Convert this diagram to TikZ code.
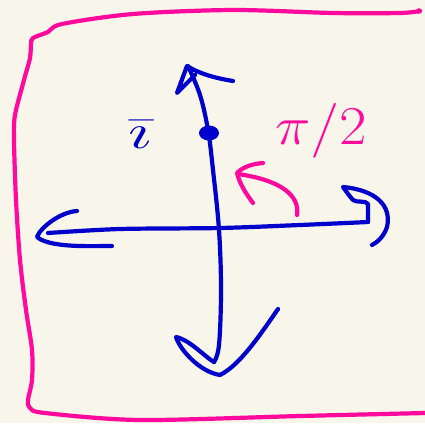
\documentclass[tikz,border=0pt]{standalone}
\usepackage{amsmath}
\definecolor{paper}{HTML}{F8F5EA}
\definecolor{ink}{HTML}{0000CC}
\definecolor{pinkink}{HTML}{FF0A9C}
\begin{document}
\begin{tikzpicture}[x=1pt,y=-1pt,
  pen/.style={line width=4.2pt,line cap=round,line join=round},
  bluepen/.style={pen,draw=ink},
  pinkpen/.style={pen,draw=pinkink}]
\fill[paper] (0,0) rectangle (425,423);
\useasboundingbox (0,0) rectangle (425,423);
% border
\draw[pinkpen] plot[smooth,tension=0.5] coordinates {(420,11) (400,13) (333,13) (233,10) (133,14) (62,24) (48,32) (33,38) (31,44) (30,58) (24,80) (15,115) (14,140) (16,200) (20,260) (26,310) (32,350) (32,380) (28,400) (30,408) (45,413) (140,420) (300,416) (425,413)};
\fill[pinkink] (419,11) circle (2.8);
% vertical axis
\draw[bluepen] plot[smooth,tension=0.6] coordinates {(188,66) (200,95) (208,130) (213,170) (219,230) (221,290) (219,345) (214,362)};
\draw[bluepen] (195,75) -- (177,93) -- (187,66) .. controls (200,74) and (215,78) .. (233,81);
\draw[bluepen] (214,362) .. controls (205,357) and (190,340) .. (176,337) .. controls (180,350) and (200,372) .. (220,375) .. controls (240,365) and (260,335) .. (278,309);
% dot
\fill[ink] (209,133) ellipse (10 and 7.5);
% horizontal axis
\draw[bluepen] plot[smooth,tension=0.5] coordinates {(48,233) (120,229) (220,228) (300,225) (368,222)};
\draw[bluepen] (77,211) .. controls (60,212) and (40,228) .. (37,237) .. controls (50,248) and (90,246) .. (112,246);
\draw[bluepen] (368,222) -- (368,204) .. controls (366,200) and (356,203) .. (353,200) .. controls (350,197) and (346,191) .. (343,187) .. controls (375,190) and (392,205) .. (387,227) .. controls (384,236) and (378,242) .. (372,245);
% pink rotation arrow
\draw[pinkpen] (297,215) .. controls (300,195) and (280,180) .. (238,174);
\draw[pinkpen] (263,163) .. controls (250,164) and (242,168) .. (237,173) .. controls (240,185) and (247,195) .. (253,203);
% labels
\node[text=ink,font=\Huge,inner sep=0pt,xscale=3.0,yscale=2.0] (ibar) at (140,135) {$\bar{\imath}$};
\node[text=pinkink,font=\Huge,inner sep=0pt,xscale=2.4,yscale=2.2] (halfpi) at (321,131) {$\pi/2$};
\end{tikzpicture}
\end{document}
